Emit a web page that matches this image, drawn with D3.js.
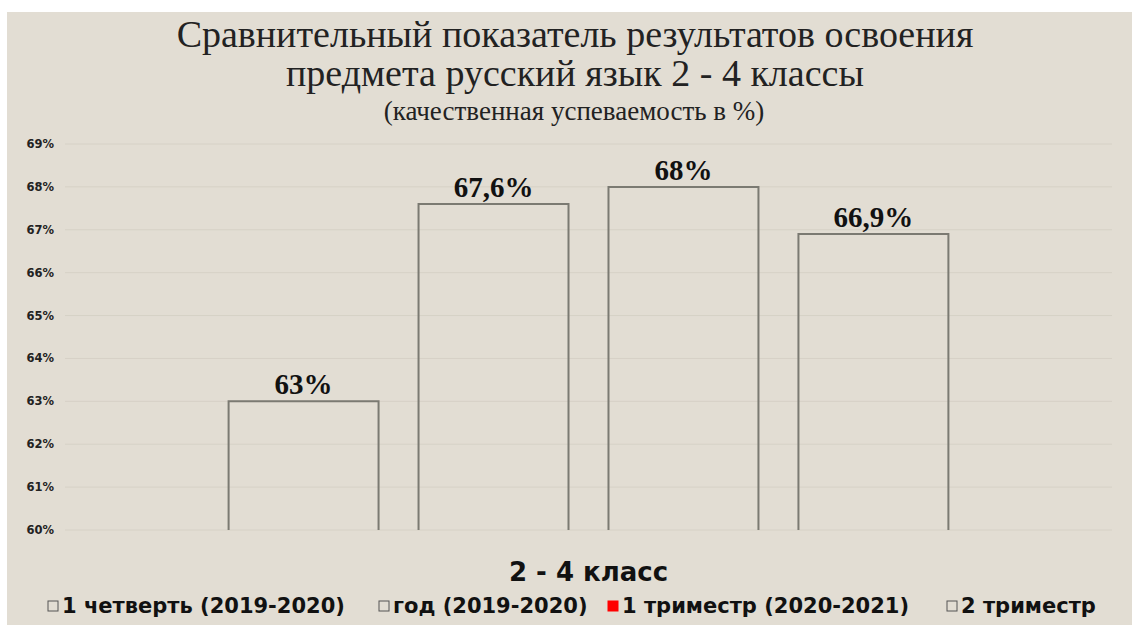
<!DOCTYPE html>
<html>
<head>
<meta charset="utf-8">
<script src="https://d3js.org/d3.v7.min.js"></script>
<style>
    body { margin: 0; background: #fff; }
    .tick-label { font-family: "DejaVu Sans", sans-serif; font-weight: bold; font-size: 11.5px; fill: #222; }
    .value-label { font-family: "Liberation Serif", serif; font-weight: bold; font-size: 29px; fill: #111; }
    .title { font-family: "Liberation Serif", serif; fill: #222; }
    .legend-text { font-family: "DejaVu Sans", sans-serif; font-weight: bold; font-size: 21px; fill: #111; }
</style>
</head>
<body>
<script>
// data
var category = "2 - 4 класс";
var seriesNames = ["1 четверть (2019-2020)", "год (2019-2020)", "1 триместр (2020-2021)", "2 триместр"];
var seriesValues = [63, 67.6, 68, 66.9];
var valueLabels = ["63%", "67,6%", "68%", "66,9%"];
var legendColors = ["none", "none", "#ff0000", "none"];
var yTicks = [60, 61, 62, 63, 64, 65, 66, 67, 68, 69];

var width = 1132,
    height = 625;

var svg = d3.select("body")
    .append("svg")
    .attr("width", width)
    .attr("height", height);

// background panel
svg.append("rect")
    .attr("x", 7).attr("y", 12)
    .attr("width", width - 7).attr("height", height - 12)
    .attr("fill", "#e2ddd3");

// titles
svg.append("text").attr("class", "title")
    .attr("x", 575).attr("y", 47)
    .attr("text-anchor", "middle").style("font-size", "38px")
    .text("Сравнительный показатель результатов освоения");
svg.append("text").attr("class", "title")
    .attr("x", 575).attr("y", 86)
    .attr("text-anchor", "middle").style("font-size", "38px")
    .text("предмета русский язык 2 - 4 классы");
svg.append("text").attr("class", "title")
    .attr("x", 574).attr("y", 120)
    .attr("text-anchor", "middle").style("font-size", "27px")
    .text("(качественная успеваемость в %)");

var plotLeft = 65, plotRight = 1112, plotTop = 144, plotBottom = 530;

var y = d3.scaleLinear()
    .domain([60, 69])
    .range([plotBottom, plotTop]);

var x0 = d3.scaleBand()
    .domain([category])
    .range([plotLeft, plotRight])
    .paddingInner(0)
    .paddingOuter(0.189);

var x1 = d3.scaleBand()
    .domain(seriesNames)
    .range([0, x0.bandwidth()])
    .paddingInner(40 / 190)
    .paddingOuter(20 / 190);

// gridlines
var grid = svg.append("g");
grid.selectAll("line")
    .data(yTicks)
    .enter()
    .append("line")
    .attr("x1", plotLeft).attr("x2", plotRight)
    .attr("y1", d => y(d)).attr("y2", d => y(d))
    .attr("stroke", "#d6d1c6")
    .attr("stroke-width", 1);

// y tick labels
svg.append("g").selectAll("text")
    .data(yTicks)
    .enter()
    .append("text")
    .attr("class", "tick-label")
    .attr("x", 54)
    .attr("y", d => y(d) + 4)
    .attr("text-anchor", "end")
    .text(d => d + "%");

// bars (open at the bottom)
var bars = svg.append("g").attr("transform", "translate(" + x0(category) + ",0)");
bars.selectAll("path")
    .data(seriesValues)
    .enter()
    .append("path")
    .attr("d", (d, i) => {
        var bx = x1(seriesNames[i]), bw = x1.bandwidth();
        return "M" + bx + "," + y(60) + "V" + y(d) + "H" + (bx + bw) + "V" + y(60);
    })
    .attr("fill", "none")
    .attr("stroke", "#7b7a72")
    .attr("stroke-width", 2);

bars.selectAll("text")
    .data(seriesValues)
    .enter()
    .append("text")
    .attr("class", "value-label")
    .attr("x", (d, i) => x1(seriesNames[i]) + x1.bandwidth() / 2)
    .attr("y", d => y(d) - 7)
    .attr("text-anchor", "middle")
    .text((d, i) => valueLabels[i]);

// category label
svg.append("text")
    .attr("x", x0(category) + x0.bandwidth() / 2)
    .attr("y", 581)
    .attr("text-anchor", "middle")
    .style("font-family", "DejaVu Sans, sans-serif")
    .style("font-weight", "bold")
    .style("font-size", "26px")
    .style("fill", "#111")
    .text(category);

// legend
var legendX = [48, 379, 608, 947];
var legend = svg.append("g");
var items = legend.selectAll("g")
    .data(seriesNames)
    .enter()
    .append("g")
    .attr("transform", (d, i) => "translate(" + legendX[i] + ",0)");

items.append("rect")
    .attr("x", 0).attr("y", 601)
    .attr("width", 10).attr("height", 10)
    .attr("fill", (d, i) => legendColors[i] === "none" ? "#e2ddd3" : legendColors[i])
    .attr("stroke", (d, i) => legendColors[i] === "none" ? "#555" : legendColors[i])
    .attr("stroke-width", 1);

items.append("text")
    .attr("class", "legend-text")
    .attr("x", 14).attr("y", 613)
    .text(d => d);
</script>
</body>
</html>
